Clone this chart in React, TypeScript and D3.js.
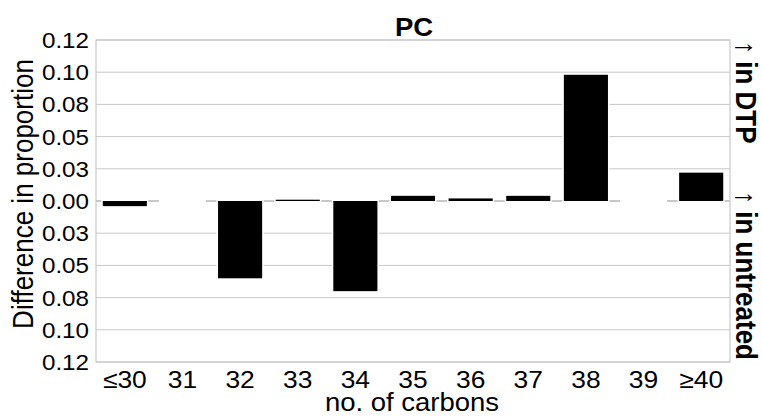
import { useEffect, useRef } from 'react';
import * as d3 from 'd3';

const CATEGORIES = ['≤30', '31', '32', '33', '34', '35', '36', '37', '38', '39', '≥40'];
const DIFF = [-0.004, 0, -0.06, 0.001, -0.07, 0.004, 0.002, 0.004, 0.098, 0, 0.022];
const Y_TICKS = [0.125, 0.1, 0.075, 0.05, 0.025, 0, -0.025, -0.05, -0.075, -0.1, -0.125];
const Y_TICK_LABELS = ['0.12', '0.10', '0.08', '0.05', '0.03', '0.00', '0.03', '0.05', '0.08', '0.10', '0.12'];

const W = 762;
const H = 419;
const FONT = '"Liberation Sans", Arial, sans-serif';
const SX = 1.1; // glyphs in the source are drawn a little wide
const GRID = '#c8c8c8';

export default function App() {
  const ref = useRef<SVGSVGElement>(null);

  useEffect(() => {
    const svg = d3.select(ref.current);
    svg.selectAll('*').remove();

    const m = { top: 40, right: 32, bottom: 57, left: 96 };
    const x = d3.scaleBand<string>().domain(CATEGORIES)
      .range([m.left, W - m.right]).paddingInner(0.235).paddingOuter(0.1175);
    const y = d3.scaleLinear().domain([-0.125, 0.125]).range([H - m.bottom, m.top]);

    const label = (tx: number, ty: number, txt: string, size: number, anchor: string, extra = '', weight = 'normal') =>
      svg.append('text')
        .attr('transform', `translate(${tx},${ty}) scale(${SX},1)${extra}`)
        .attr('text-anchor', anchor)
        .attr('font-family', FONT).attr('font-size', size).attr('font-weight', weight)
        .attr('fill', '#000').text(txt);

    // ── grid + frame ──────────────────────────────────────────
    svg.append('g').selectAll('line').data(Y_TICKS).join('line')
      .attr('x1', m.left).attr('x2', W - m.right)
      .attr('y1', d => y(d)).attr('y2', d => y(d))
      .attr('stroke', GRID).attr('stroke-width', d => (d === 0 ? 2 : 1));
    svg.append('rect')
      .attr('x', m.left).attr('y', m.top)
      .attr('width', W - m.right - m.left).attr('height', H - m.bottom - m.top)
      .attr('fill', 'none').attr('stroke', GRID).attr('stroke-width', 1.2);

    // ── bars (white halo first, so the zero line breaks around them) ──
    const bars = CATEGORIES.map((c, i) => ({ c, v: DIFF[i] }));
    const y0 = y(0);
    svg.append('g').selectAll('rect').data(bars).join('rect')
      .attr('x', d => x(d.c)! - 1.5).attr('width', x.bandwidth() + 3)
      .attr('y', d => Math.min(y(d.v), y0) - 1.5)
      .attr('height', d => Math.abs(y(d.v) - y0) + 3)
      .attr('fill', '#fff');
    svg.append('g').selectAll('rect').data(bars).join('rect')
      .attr('x', d => x(d.c)!).attr('width', x.bandwidth())
      .attr('y', d => Math.min(y(d.v), y0))
      .attr('height', d => Math.abs(y(d.v) - y0))
      .attr('fill', '#000');

    // ── tick labels ───────────────────────────────────────────
    Y_TICKS.forEach((t, i) => label(89, y(t) + 8, Y_TICK_LABELS[i], 22, 'end'));
    CATEGORIES.forEach(c => label(x(c)! + x.bandwidth() / 2, 388, c, 24, 'middle'));

    // ── titles ────────────────────────────────────────────────
    label(414, 36, 'PC', 25, 'middle', '', 'bold');
    label(412, 411, 'no. of carbons', 25, 'middle');
    label(33, (m.top + H - m.bottom) / 2 - 7, 'Difference in proportion', 26, 'middle', ' rotate(-90)');
    label(736, 41, '↑ in DTP', 26, 'start', ' rotate(90)', 'bold');
    label(736, 191, '↑ in untreated', 26, 'start', ' rotate(90)', 'bold');
  }, []);

  return (
    <svg ref={ref} width={W} height={H}
      style={{ position: 'absolute', left: 0, top: 0, background: '#fff' }} />
  );
}
